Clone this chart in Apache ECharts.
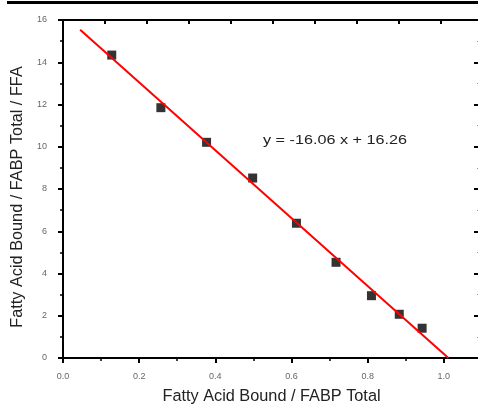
<!DOCTYPE html>
<html>
<head>
<meta charset="utf-8">
<script src="https://cdn.jsdelivr.net/npm/echarts@6/dist/echarts.min.js"></script>
<style>html,body{margin:0;padding:0;background:#fff}#c{width:478px;height:405px}</style>
</head>
<body>
<div id="c"></div>
<script>
// Data
const boundFraction = [0.128, 0.257, 0.377, 0.498, 0.613, 0.717, 0.810, 0.883, 0.943];
const ratioFFA      = [14.34, 11.85, 10.21, 8.52, 6.38, 4.53, 2.95, 2.07, 1.41];
const fitLineX = [0.045, 1.012];
const fitLineY = [15.54, 0.0];
const fitLabel = 'y = -16.06 x + 16.26';
const fitLabelPos = [0.525, 10.3];
const xTickLabels = ['0.0', '0.2', '0.4', '0.6', '0.8', '1.0'];
const yTickLabels = ['0', '2', '4', '6', '8', '10', '12', '14', '16'];
const xName = 'Fatty Acid Bound / FABP Total';
const yName = 'Fatty Acid Bound / FABP Total / FFA';

const FONT = 'Liberation Sans, Arial, sans-serif';
const chart = echarts.init(document.getElementById('c'), null, {renderer: 'canvas'});

const points = boundFraction.map((x, i) => [x, ratioFFA[i]]);
const line = fitLineX.map((x, i) => [x, fitLineY[i]]);

chart.setOption({
  animation: false,
  grid: {left: 63, top: 20, width: 417, height: 338, containLabel: false, outerBoundsMode: 'none'},
  xAxis: [
    { type: 'value', position: 'bottom', min: 0, max: 1.095, interval: 0.2,
      axisLine: {show: true, onZero: false, lineStyle: {color: '#000', width: 2}},
      axisTick: {show: true, inside: false, length: 5, lineStyle: {color: '#000', width: 2}},
      minorTick: {show: false},
      splitLine: {show: false},
      axisLabel: {show: true, margin: 14, color: '#666', fontFamily: FONT, fontSize: 9,
        formatter: v => { const s = v.toFixed(1); return xTickLabels.includes(s) && Math.abs(v - parseFloat(s)) < 1e-6 ? s : ''; }},
      name: xName, nameLocation: 'middle', nameGap: 31,
      nameTextStyle: {color: '#222', fontFamily: FONT, fontSize: 16.3}
    },
    { type: 'value', position: 'top', min: 0, max: 9.93, interval: 1,
      axisLine: {show: true, onZero: false, lineStyle: {color: '#000', width: 2}},
      axisTick: {show: true, inside: true, length: 4, lineStyle: {color: '#000', width: 2}},
      axisLabel: {show: false}, splitLine: {show: false}
    },
    { type: 'value', position: 'bottom', min: 0, max: 1.095, interval: 0.1,
      axisLine: {show: false, onZero: false},
      axisTick: {show: true, inside: false, length: 3, lineStyle: {color: '#000', width: 1.5}},
      axisLabel: {show: false}, splitLine: {show: false}
    }
  ],
  yAxis: [
    { type: 'value', position: 'left', min: 0, max: 16, interval: 2,
      axisLine: {show: true, onZero: false, lineStyle: {color: '#000', width: 2}},
      axisTick: {show: true, inside: false, length: 5, lineStyle: {color: '#000', width: 2}},
      minorTick: {show: true, splitNumber: 2, length: 3, lineStyle: {color: '#000', width: 1.5}},
      splitLine: {show: false},
      axisLabel: {show: true, margin: 16, color: '#666', fontFamily: FONT, fontSize: 9,
        formatter: v => yTickLabels.includes(String(v)) ? String(v) : ''},
      name: yName, nameLocation: 'middle', nameGap: 37,
      nameTextStyle: {color: '#222', fontFamily: FONT, fontSize: 16.3, padding: [0, 16, 0, 0]}
    },
    { type: 'value', position: 'right', min: 0, max: 16, interval: 2,
      axisLine: {show: true, onZero: false, lineStyle: {color: '#000', width: 2}},
      axisTick: {show: true, inside: true, length: 6, lineStyle: {color: '#000', width: 2}},
      minorTick: {show: true, splitNumber: 2, length: 3, lineStyle: {color: '#999', width: 1}},
      axisLabel: {show: false}, splitLine: {show: false}
    }
  ],
  series: [
    { type: 'line', data: line, xAxisIndex: 0, yAxisIndex: 0, showSymbol: false, symbol: 'none',
      lineStyle: {color: '#ff0000', width: 2}, z: 3 },
    { type: 'scatter', data: points, xAxisIndex: 0, yAxisIndex: 0, symbol: 'rect', symbolSize: 9,
      itemStyle: {color: '#000'}, z: 2 }
  ]
});

const p = chart.convertToPixel({xAxisIndex: 0, yAxisIndex: 0}, fitLabelPos);
chart.setOption({
  graphic: [
    { type: 'line', shape: {x1: 7, y1: 2.5, x2: 478, y2: 2.5}, style: {stroke: '#000', lineWidth: 3} },
    { type: 'text', x: p[0], y: p[1], scaleX: 1.35,
      style: {text: fitLabel, fill: '#222', font: '12px ' + FONT, textAlign: 'left', textVerticalAlign: 'middle'} }
  ]
});
</script>
</body>
</html>
